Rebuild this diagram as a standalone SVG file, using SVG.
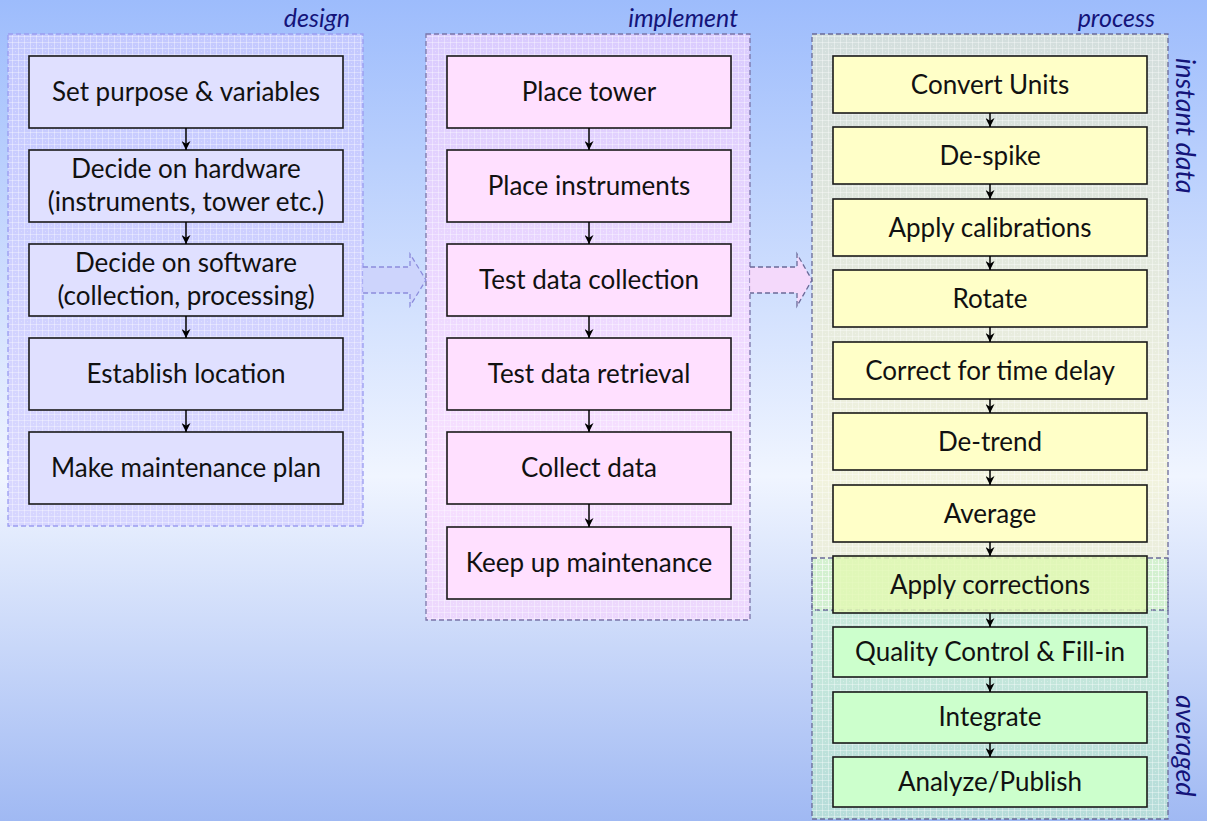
<svg xmlns="http://www.w3.org/2000/svg" width="1207" height="821" viewBox="0 0 1207 821">
  <defs>
    <linearGradient id="bg" x1="0" y1="0" x2="0" y2="1">
      <stop offset="0" stop-color="#9dbcfc"/>
      <stop offset="0.58" stop-color="#f0f5ff"/>
      <stop offset="1" stop-color="#a0b9f3"/>
    </linearGradient>
    <pattern id="grid" width="6" height="6" patternUnits="userSpaceOnUse">
      <path d="M0 0.5H6M0.5 0V6" stroke="#ffffff" stroke-opacity="0.35" stroke-width="1" fill="none"/>
      <rect x="3" y="3" width="1" height="1" fill="#ffffff" fill-opacity="0.3"/>
    </pattern>
    <marker id="ah" viewBox="0 0 10 10" refX="10" refY="5" markerWidth="9" markerHeight="9" markerUnits="userSpaceOnUse" orient="auto">
      <path d="M0,0 L10,5 L0,10 L3,5 Z" fill="#000"/>
    </marker>
    <style>
      .lbl { font-family: Lato, "Open Sans", sans-serif; font-style: italic; font-size: 25px; fill: #14147a; }
      .vlbl { font-family: Lato, "Open Sans", sans-serif; font-style: italic; font-size: 27px; fill: #14147a; }
      .t { font-family: Lato, "Open Sans", sans-serif; font-size: 26px; fill: #111; text-anchor: middle; }
      .tp { font-family: Lato, "Open Sans", sans-serif; font-size: 26px; fill: #111; text-anchor: middle; }
      .box { stroke: #1a1a1a; stroke-width: 1.6; }
      .dbox { fill: #e0e0ff; }
      .ibox { fill: #ffe0ff; }
      .ybox { fill: #ffffc8; }
      .gybox { fill: #e2f8b4; fill-opacity: 0.85; }
      .gbox { fill: #ccffcc; }
      .cont { stroke-width: 1.3; stroke-dasharray: 5 3; }
      .conn { stroke: #000; stroke-width: 1.5; fill: none; marker-end: url(#ah); }
    </style>
  </defs>

  <rect x="0" y="0" width="1207" height="821" fill="url(#bg)"/>

  <g id="containers">
    <g id="design-container">
      <rect x="8" y="34" width="355" height="492" fill="#d0ccff" fill-opacity="0.72"/>
      <rect x="8" y="34" width="355" height="492" fill="url(#grid)" class="cont" stroke="#9a9cf0"/>
      <text class="lbl" x="350" y="27" text-anchor="end">design</text>
    </g>
    <g id="implement-container">
      <rect x="426" y="34" width="324" height="586" fill="#ffd4ff" fill-opacity="0.6"/>
      <rect x="426" y="34" width="324" height="586" fill="url(#grid)" class="cont" stroke="#7a74a8"/>
      <text class="lbl" x="738" y="27" text-anchor="end">implement</text>
    </g>
    <g id="process-container">
      <rect x="812" y="34" width="356" height="576" fill="#f4f2c8" fill-opacity="0.6"/>
      <rect x="812" y="558" width="356" height="261" fill="#c4f4c8" fill-opacity="0.6"/>
      <rect x="812" y="34" width="356" height="576" fill="url(#grid)" class="cont" stroke="#6a6a98"/>
      <rect x="812" y="558" width="356" height="261" fill="url(#grid)" class="cont" stroke="#6a6a98"/>
      <text class="lbl" x="1155" y="27" text-anchor="end">process</text>
      <text class="vlbl" transform="translate(1176,58) rotate(90)">instant data</text>
      <text class="vlbl" transform="translate(1176,695) rotate(90)">averaged</text>
    </g>
  </g>

  <g id="block-arrows">
    <path id="arrow-design-implement" d="M363,267 H410 V254 L426,280 L410,306 V293 H363" fill="#ccd2fb" fill-opacity="0.85" stroke="#8c8cdc" stroke-width="1.3" stroke-dasharray="5 3"/>
    <path id="arrow-implement-process" d="M750,267 H797 V254 L812,280 L797,306 V293 H750" fill="#fad8fa" fill-opacity="0.85" stroke="#6a6a98" stroke-width="1.3" stroke-dasharray="5 3"/>
  </g>

  <g id="design-nodes">
    <g id="d1"><rect class="box dbox" x="29" y="56" width="314" height="72"/><text class="t" x="186" y="101">Set purpose &amp; variables</text></g>
    <g id="d2"><rect class="box dbox" x="29" y="150" width="314" height="72"/><text class="t" x="186" y="178">Decide on hardware</text><text class="t" x="186" y="211">(instruments, tower etc.)</text></g>
    <g id="d3"><rect class="box dbox" x="29" y="244" width="314" height="72"/><text class="t" x="186" y="272">Decide on software</text><text class="t" x="186" y="305">(collection, processing)</text></g>
    <g id="d4"><rect class="box dbox" x="29" y="338" width="314" height="72"/><text class="t" x="186" y="383">Establish location</text></g>
    <g id="d5"><rect class="box dbox" x="29" y="432" width="314" height="72"/><text class="t" x="186" y="477">Make maintenance plan</text></g>
  </g>

  <g id="implement-nodes">
    <g id="i1"><rect class="box ibox" x="447" y="56" width="284" height="72"/><text class="t" x="589" y="101">Place tower</text></g>
    <g id="i2"><rect class="box ibox" x="447" y="150" width="284" height="72"/><text class="t" x="589" y="195">Place instruments</text></g>
    <g id="i3"><rect class="box ibox" x="447" y="244" width="284" height="72"/><text class="t" x="589" y="289">Test data collection</text></g>
    <g id="i4"><rect class="box ibox" x="447" y="338" width="284" height="72"/><text class="t" x="589" y="383">Test data retrieval</text></g>
    <g id="i5"><rect class="box ibox" x="447" y="432" width="284" height="72"/><text class="t" x="589" y="477">Collect data</text></g>
    <g id="i6"><rect class="box ibox" x="447" y="527" width="284" height="72"/><text class="t" x="589" y="572">Keep up maintenance</text></g>
  </g>

  <g id="process-nodes">
    <g id="p1"><rect class="box ybox" x="833" y="56" width="314" height="57"/><text class="tp" x="990" y="94">Convert Units</text></g>
    <g id="p2"><rect class="box ybox" x="833" y="127" width="314" height="57"/><text class="tp" x="990" y="165">De-spike</text></g>
    <g id="p3"><rect class="box ybox" x="833" y="199" width="314" height="57"/><text class="tp" x="990" y="237">Apply calibrations</text></g>
    <g id="p4"><rect class="box ybox" x="833" y="270" width="314" height="57"/><text class="tp" x="990" y="308">Rotate</text></g>
    <g id="p5"><rect class="box ybox" x="833" y="342" width="314" height="57"/><text class="tp" x="990" y="380">Correct for time delay</text></g>
    <g id="p6"><rect class="box ybox" x="833" y="413" width="314" height="57"/><text class="tp" x="990" y="451">De-trend</text></g>
    <g id="p7"><rect class="box ybox" x="833" y="485" width="314" height="57"/><text class="tp" x="990" y="523">Average</text></g>
    <g id="p8"><rect class="box gybox" x="833" y="556" width="314" height="57"/><text class="tp" x="990" y="594">Apply corrections</text></g>
    <g id="p9"><rect class="box gbox" x="833" y="627" width="314" height="50"/><text class="tp" x="990" y="661">Quality Control &amp; Fill-in</text></g>
    <g id="p10"><rect class="box gbox" x="833" y="692" width="314" height="51"/><text class="tp" x="990" y="726">Integrate</text></g>
    <g id="p11"><rect class="box gbox" x="833" y="757" width="314" height="50"/><text class="tp" x="990" y="791">Analyze/Publish</text></g>
  </g>

  <g id="connectors">
    <line class="conn" x1="186" y1="128" x2="186" y2="150"/>
    <line class="conn" x1="186" y1="222" x2="186" y2="244"/>
    <line class="conn" x1="186" y1="316" x2="186" y2="338"/>
    <line class="conn" x1="186" y1="410" x2="186" y2="432"/>
    <line class="conn" x1="589" y1="128" x2="589" y2="150"/>
    <line class="conn" x1="589" y1="222" x2="589" y2="244"/>
    <line class="conn" x1="589" y1="316" x2="589" y2="338"/>
    <line class="conn" x1="589" y1="410" x2="589" y2="432"/>
    <line class="conn" x1="589" y1="504" x2="589" y2="527"/>
    <line class="conn" x1="990" y1="113" x2="990" y2="127"/>
    <line class="conn" x1="990" y1="184" x2="990" y2="199"/>
    <line class="conn" x1="990" y1="256" x2="990" y2="270"/>
    <line class="conn" x1="990" y1="327" x2="990" y2="342"/>
    <line class="conn" x1="990" y1="399" x2="990" y2="413"/>
    <line class="conn" x1="990" y1="470" x2="990" y2="485"/>
    <line class="conn" x1="990" y1="542" x2="990" y2="556"/>
    <line class="conn" x1="990" y1="613" x2="990" y2="627"/>
    <line class="conn" x1="990" y1="677" x2="990" y2="692"/>
    <line class="conn" x1="990" y1="743" x2="990" y2="757"/>
  </g>
</svg>
